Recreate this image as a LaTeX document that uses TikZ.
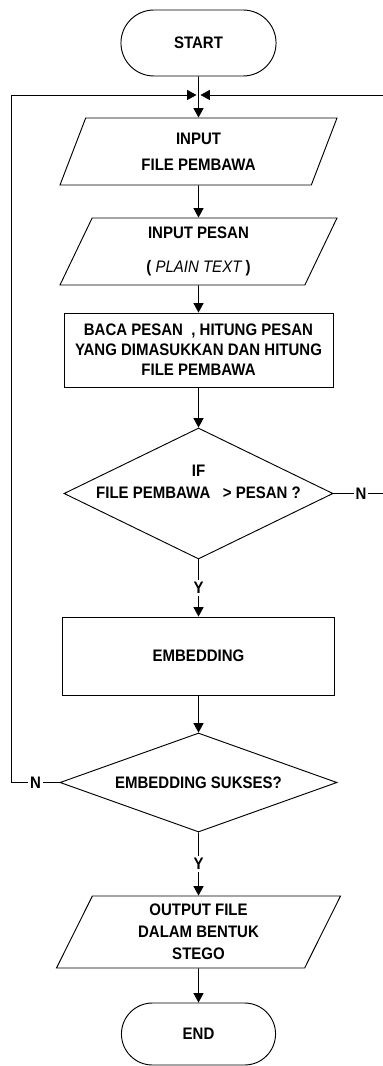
\documentclass[tikz,border=0pt]{standalone}
\usepackage{fontspec}
\setmainfont{Liberation Sans}[FakeStretch=0.9]
\usetikzlibrary{shapes.geometric,shapes.misc,arrows.meta}

\begin{document}
\begin{tikzpicture}[x=0.75pt,y=-0.75pt,
  every node/.style={font=\fontsize{12.5}{14.5}\selectfont\bfseries},
  box/.style={draw,line width=0.7pt,align=center},
  term/.style={box,rounded rectangle,minimum width=123pt,minimum height=49.5pt},
  io/.style={box,trapezium,trapezium left angle=61,trapezium right angle=119,
    trapezium stretches body,minimum width=207.75pt,minimum height=50.25pt},
  proc/.style={box,rectangle},
  decision/.style={box,diamond,inner sep=0pt},
  flow/.style={line width=0.7pt,-{Triangle[length=7pt,width=7.5pt]}},
  lab/.style={fill=white,inner sep=1.5pt}]
  \useasboundingbox (0,0) rectangle (382,1066);
  \node[term] (start) at (198.5,43) {START};
  \node[io] (in1) at (198.5,151.5) {INPUT\\[5pt]FILE PEMBAWA};
  \node[io] (in2) at (198.5,251.5) {INPUT PESAN\\[11pt]( {\mdseries\itshape PLAIN TEXT} )};
  \node[proc,minimum width=201.75pt,minimum height=55.5pt] (count) at (198.5,350)
    {BACA PESAN \ , HITUNG PESAN\\[0.5pt]YANG DIMASUKKAN DAN HITUNG\\[0.5pt]FILE PEMBAWA};
  \node[decision,aspect=2.05,minimum width=201.75pt,minimum height=98.25pt] (size) at (198.5,493.5)
    {\raisebox{4.5pt}[10pt][10pt]{\begin{tabular}{@{}c@{}}IF\\[2pt]FILE PEMBAWA \ \ > PESAN ?\end{tabular}}};
  \node[proc,minimum width=204pt,minimum height=58.5pt] (embed) at (198.5,656) {EMBEDDING};
  \node[decision,aspect=2.8,minimum width=207.75pt,minimum height=74.25pt] (ok) at (198.5,782.5)
    {EMBEDDING SUKSES?};
  \node[io,minimum width=213pt,minimum height=54pt] (out) at (198.5,932)
    {OUTPUT FILE\\[2pt]DALAM BENTUK\\[2pt]STEGO};
  \node[term,minimum width=122.25pt,minimum height=46.5pt] (end) at (198.5,1034) {END};

  \coordinate (join) at (198.5,95);
  \draw[line width=0.7pt] (start) -- (join);
  \draw[flow] (join) -- (in1);
  \draw[flow] (in1) -- (in2);
  \draw[flow] (in2) -- (count);
  \draw[flow] (count) -- (size);
  \draw[flow] (size) -- node[lab]{Y} (embed);
  \draw[flow] (embed) -- (ok);
  \draw[flow] (ok) -- node[lab]{Y} (out);
  \draw[flow] (out) -- (end);
  \draw[flow] (ok.west) -- node[lab]{N} ++(-48,0) |- ([xshift=-1.5pt]join);
  \draw[flow] (size.east) -- node[lab]{N} ++(55,0) |- ([xshift=1.5pt]join);
\end{tikzpicture}
\end{document}
